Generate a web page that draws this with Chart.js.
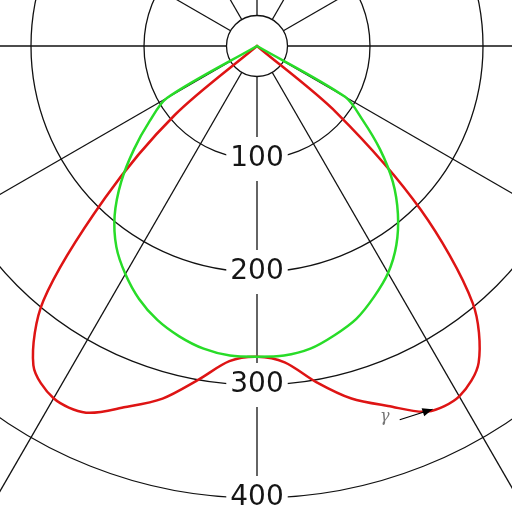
<!DOCTYPE html>
<html>
<head>
<meta charset="utf-8">
<script src="https://cdn.jsdelivr.net/npm/chart.js@4/dist/chart.umd.min.js"></script>
<style>
  html, body { margin: 0; padding: 0; background: #fff; }
  #wrap { position: relative; width: 512px; height: 512px; overflow: hidden; background: #fff; }
  #polar { position: absolute; left: -308px; top: -519px; }
</style>
</head>
<body>
<div id="wrap">
  <canvas id="polar" width="1130" height="1130"></canvas>
</div>
<script>
// Angles (deg) measured from nadir, going clockwise on screen (left side first)
const angles = [
  0, 5, 10, 15, 20, 25, 30, 35, 40, 45, 50, 55,
  60, 65, 70, 75, 80, 85, 90, 95, 100, 105, 110, 115,
  120, 125, 130, 135, 140, 145, 150, 155, 160, 165, 170, 175,
  180, 185, 190, 195, 200, 205, 210, 215, 220, 225, 230, 235,
  240, 245, 250, 255, 260, 265, 270, 275, 280, 285, 290, 295,
  300, 305, 310, 315, 320, 325, 330, 335, 340, 345, 350, 355
];

// courbe verte (quasi lambertienne)
const greenValues = [
  275, 275, 272, 266, 258, 247, 233, 217, 196, 170, 142, 116,
  92, 0, 0, 0, 0, 0, 0, 0, 0, 0, 0, 0,
  0, 0, 0, 0, 0, 0, 0, 0, 0, 0, 0, 0,
  0, 0, 0, 0, 0, 0, 0, 0, 0, 0, 0, 0,
  0, 0, 0, 0, 0, 0, 0, 0, 0, 0, 0, 0,
  90, 114, 142, 170, 194, 215, 232, 245, 257, 265, 272, 275
];

// courbe rouge (batwing)
const redValues = [
  275, 280, 300, 323, 340, 358, 360, 345, 294, 190, 95, 0,
  0, 0, 0, 0, 0, 0, 0, 0, 0, 0, 0, 0,
  0, 0, 0, 0, 0, 0, 0, 0, 0, 0, 0, 0,
  0, 0, 0, 0, 0, 0, 0, 0, 0, 0, 0, 0,
  0, 0, 0, 0, 0, 0, 0, 0, 0, 0, 0, 0,
  0, 0, 92, 205, 297, 342, 358, 357, 339, 323, 302, 281
];

const tickLabels = [100, 200, 300, 400];
const innerRing = 27;
const gridColor = '#111';

// position polaire (angle depuis le nadir, côté droit) -> pixels
function polarPos(scale, value, thetaDeg) {
    const d = scale.getDistanceFromCenterForValue(value);
    const t = thetaDeg * Math.PI / 180;
    return { x: scale.xCenter + Math.sin(t) * d, y: scale.yCenter + Math.cos(t) * d };
}

const polarExtras = {
    id: 'polarExtras',
    beforeDatasetsDraw(chart) {
        const s = chart.scales.r;
        const ctx = chart.ctx;
        ctx.save();

        // petit cercle central
        ctx.beginPath();
        ctx.arc(s.xCenter, s.yCenter, s.getDistanceFromCenterForValue(innerRing), 0, Math.PI * 2);
        ctx.fillStyle = '#fff';
        ctx.fill();
        ctx.lineWidth = 1.3;
        ctx.strokeStyle = gridColor;
        ctx.stroke();

        // graduations sur l'axe vertical, vers le bas
        ctx.font = '28px "DejaVu Sans"';
        ctx.textAlign = 'center';
        ctx.textBaseline = 'middle';
        tickLabels.forEach(v => {
            const y = s.yCenter + s.getDistanceFromCenterForValue(v);
            const label = String(v);
            const w = ctx.measureText(label).width;
            ctx.fillStyle = '#fff';
            ctx.fillRect(s.xCenter - w / 2 - 4, y - 22, w + 8, 44);
            ctx.fillStyle = '#151515';
            ctx.fillText(label, s.xCenter, y);
        });
        ctx.restore();
    },
    afterDatasetsDraw(chart) {
        const s = chart.scales.r;
        const ctx = chart.ctx;
        ctx.save();

        // flèche
        const tail = polarPos(s, 354, 20.9);
        const tip = polarPos(s, 357, 25.8);
        ctx.strokeStyle = '#000';
        ctx.lineWidth = 1.2;
        ctx.beginPath();
        ctx.moveTo(tail.x, tail.y);
        ctx.lineTo(tip.x, tip.y);
        ctx.stroke();
        const a = Math.atan2(tip.y - tail.y, tip.x - tail.x);
        ctx.fillStyle = '#000';
        ctx.beginPath();
        ctx.moveTo(tip.x, tip.y);
        ctx.lineTo(tip.x - 11 * Math.cos(a - 0.4), tip.y - 11 * Math.sin(a - 0.4));
        ctx.lineTo(tip.x - 11 * Math.cos(a + 0.4), tip.y - 11 * Math.sin(a + 0.4));
        ctx.closePath();
        ctx.fill();

        // symbole gamma
        const g = polarPos(s, 347, 19);
        ctx.fillStyle = '#777';
        ctx.font = 'italic 16px "DejaVu Serif"';
        ctx.textAlign = 'center';
        ctx.textBaseline = 'middle';
        ctx.fillText('γ', g.x, g.y);
        ctx.restore();
    }
};

new Chart(document.getElementById('polar'), {
    type: 'radar',
    data: {
        labels: angles,
        datasets: [
            {
                label: 'vert',
                data: greenValues,
                borderColor: 'rgb(40, 220, 40)',
                borderWidth: 2.5,
                pointRadius: 0,
                fill: false,
                tension: 0.3
            },
            {
                label: 'rouge',
                data: redValues,
                borderColor: 'rgb(222, 20, 20)',
                borderWidth: 2.5,
                pointRadius: 0,
                fill: false,
                tension: 0.3
            }
        ]
    },
    options: {
        responsive: false,
        animation: false,
        layout: { padding: 0 },
        plugins: {
            legend: { display: false },
            tooltip: { enabled: false }
        },
        scales: {
            r: {
                min: 0,
                max: 500,
                startAngle: 180,
                ticks: { display: false, stepSize: 100 },
                grid: { circular: true, color: gridColor, lineWidth: 1.3 },
                angleLines: {
                    display: true,
                    color: gridColor,
                    lineWidth: ctx => (ctx.index % 6 === 0 ? 1.3 : 0)
                },
                pointLabels: { display: false }
            }
        }
    },
    plugins: [polarExtras]
});
</script>
</body>
</html>
